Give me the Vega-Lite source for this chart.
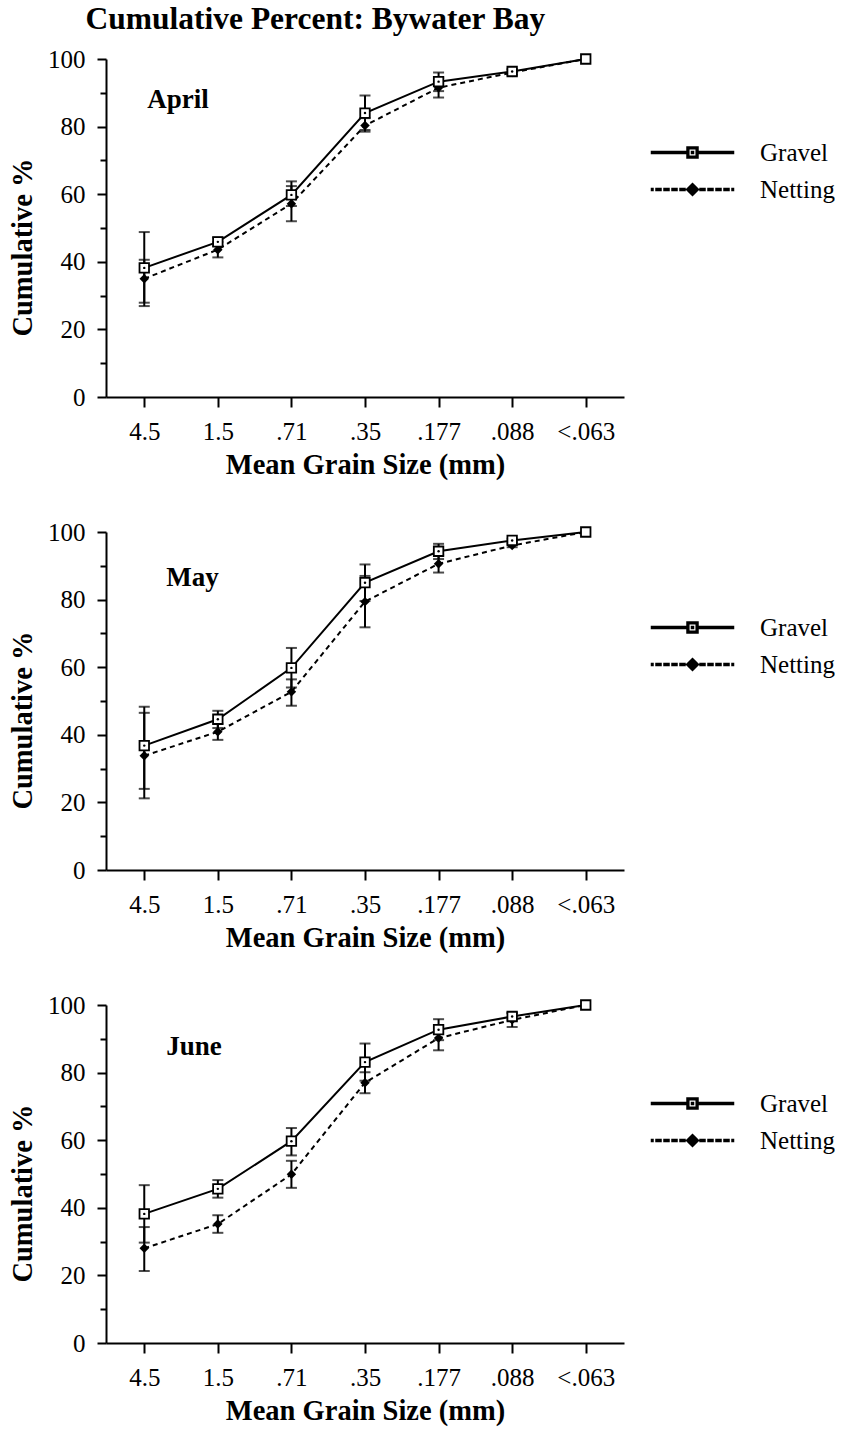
{
  "$schema": "https://vega.github.io/schema/vega-lite/v6.json",
  "padding": {"left": 8, "top": 3, "right": 0, "bottom": 5},
  "bounds": "flush",
  "spacing": 135,
  "title": {"text": "Cumulative Percent: Bywater Bay", "anchor": "start", "dx": 77, "fontSize": 31.5, "font": "Liberation Serif", "fontWeight": "bold", "offset": 12},
  "datasets": {
    "grain": [
      {"month": "April", "size": "4.5", "series": "Gravel", "value": 38.2, "lo": 27.9, "hi": 48.8},
      {"month": "April", "size": "1.5", "series": "Gravel", "value": 45.9, "lo": 44.7, "hi": 47.2},
      {"month": "April", "size": ".71", "series": "Gravel", "value": 59.8, "lo": 56.5, "hi": 63.8},
      {"month": "April", "size": ".35", "series": "Gravel", "value": 84.0, "lo": 79.0, "hi": 89.2},
      {"month": "April", "size": ".177", "series": "Gravel", "value": 93.3, "lo": 90.5, "hi": 96.0},
      {"month": "April", "size": ".088", "series": "Gravel", "value": 96.3, "lo": 95.5, "hi": 97.1},
      {"month": "April", "size": "<.063", "series": "Gravel", "value": 100},
      {"month": "April", "size": "4.5", "series": "Netting", "value": 35.0, "lo": 26.9, "hi": 40.6},
      {"month": "April", "size": "1.5", "series": "Netting", "value": 43.6, "lo": 41.3, "hi": 45.9},
      {"month": "April", "size": ".71", "series": "Netting", "value": 57.2, "lo": 52.0, "hi": 62.4},
      {"month": "April", "size": ".35", "series": "Netting", "value": 80.3, "lo": 78.5, "hi": 82.5},
      {"month": "April", "size": ".177", "series": "Netting", "value": 91.5, "lo": 88.6, "hi": 94.4},
      {"month": "April", "size": ".088", "series": "Netting", "value": 96.0, "lo": 95.2, "hi": 96.8},
      {"month": "April", "size": "<.063", "series": "Netting", "value": 100},
      {"month": "May", "size": "4.5", "series": "Gravel", "value": 36.8, "lo": 24.0, "hi": 48.3},
      {"month": "May", "size": "1.5", "series": "Gravel", "value": 44.6, "lo": 42.0, "hi": 47.1},
      {"month": "May", "size": ".71", "series": "Gravel", "value": 59.8, "lo": 54.0, "hi": 65.7},
      {"month": "May", "size": ".35", "series": "Gravel", "value": 85.0, "lo": 79.6, "hi": 90.4},
      {"month": "May", "size": ".177", "series": "Gravel", "value": 94.3, "lo": 92.0, "hi": 96.5},
      {"month": "May", "size": ".088", "series": "Gravel", "value": 97.5, "lo": 97.0, "hi": 98.0},
      {"month": "May", "size": "<.063", "series": "Gravel", "value": 100},
      {"month": "May", "size": "4.5", "series": "Netting", "value": 33.8, "lo": 21.2, "hi": 46.5},
      {"month": "May", "size": "1.5", "series": "Netting", "value": 40.9, "lo": 38.5, "hi": 43.3},
      {"month": "May", "size": ".71", "series": "Netting", "value": 52.7, "lo": 48.6, "hi": 56.4},
      {"month": "May", "size": ".35", "series": "Netting", "value": 79.4, "lo": 71.8, "hi": 87.0},
      {"month": "May", "size": ".177", "series": "Netting", "value": 90.6, "lo": 88.0, "hi": 93.2},
      {"month": "May", "size": ".088", "series": "Netting", "value": 96.0, "lo": 95.5, "hi": 96.5},
      {"month": "May", "size": "<.063", "series": "Netting", "value": 100},
      {"month": "June", "size": "4.5", "series": "Gravel", "value": 38.2, "lo": 29.7, "hi": 46.7},
      {"month": "June", "size": "1.5", "series": "Gravel", "value": 45.6, "lo": 43.0, "hi": 48.2},
      {"month": "June", "size": ".71", "series": "Gravel", "value": 59.7, "lo": 55.5, "hi": 63.6},
      {"month": "June", "size": ".35", "series": "Gravel", "value": 83.1, "lo": 77.6, "hi": 88.6},
      {"month": "June", "size": ".177", "series": "Gravel", "value": 92.7, "lo": 89.6, "hi": 95.8},
      {"month": "June", "size": ".088", "series": "Gravel", "value": 96.6, "lo": 95.6, "hi": 97.6},
      {"month": "June", "size": "<.063", "series": "Gravel", "value": 100},
      {"month": "June", "size": "4.5", "series": "Netting", "value": 28.0, "lo": 21.3, "hi": 34.3},
      {"month": "June", "size": "1.5", "series": "Netting", "value": 35.2, "lo": 32.6, "hi": 37.8},
      {"month": "June", "size": ".71", "series": "Netting", "value": 49.9, "lo": 45.9, "hi": 53.9},
      {"month": "June", "size": ".35", "series": "Netting", "value": 77.0, "lo": 73.9, "hi": 80.1},
      {"month": "June", "size": ".177", "series": "Netting", "value": 90.2, "lo": 86.6, "hi": 93.8},
      {"month": "June", "size": ".088", "series": "Netting", "value": 95.6, "lo": 93.5, "hi": 97.7},
      {"month": "June", "size": "<.063", "series": "Netting", "value": 100}
    ],
    "labels": [
      {"month": "April", "size": "4.5", "value": 88},
      {"month": "May", "size": "4.5", "value": 86.5},
      {"month": "June", "size": "4.5", "value": 87.5}
    ]
  },
  "data": {"name": "grain"},
  "vconcat": [
    {
      "width": 518, "height": 338,
      "transform": [{"filter": "datum.month === 'April'"}],
      "encoding": {
        "x": {"field": "size", "type": "ordinal", "sort": ["4.5", "1.5", ".71", ".35", ".177", ".088", "<.063"], "scale": {"type": "point", "padding": 0.52}, "title": "Mean Grain Size (mm)"},
        "y": {"field": "value", "type": "quantitative", "scale": {"domain": [0, 100], "nice": false}, "title": "Cumulative %"}
      },
      "layer": [
        {"transform": [{"filter": "datum.series === 'Netting'"}], "mark": {"type": "line", "color": "black", "strokeWidth": 2, "strokeDash": [5, 4]}, "encoding": {}},
        {"transform": [{"filter": "datum.series === 'Gravel'"}], "mark": {"type": "line", "color": "black", "strokeWidth": 2}, "encoding": {}},
        {"transform": [{"filter": "isValid(datum.lo)"}], "mark": {"type": "rule", "color": "black", "strokeWidth": 2}, "encoding": {"y": {"field": "lo", "type": "quantitative"}, "y2": {"field": "hi"}}},
        {"transform": [{"filter": "isValid(datum.lo)"}], "mark": {"type": "tick", "color": "black", "size": 11, "thickness": 2}, "encoding": {"y": {"field": "lo", "type": "quantitative"}}},
        {"transform": [{"filter": "isValid(datum.hi)"}], "mark": {"type": "tick", "color": "black", "size": 11, "thickness": 2}, "encoding": {"y": {"field": "hi", "type": "quantitative"}}},
        {"transform": [{"filter": "datum.series === 'Netting'"}], "mark": {"type": "point", "shape": "diamond", "filled": true, "color": "black", "size": 90, "opacity": 1}},
        {"transform": [{"filter": "datum.series === 'Gravel'"}], "mark": {"type": "point", "shape": "square", "fill": "white", "stroke": "black", "strokeWidth": 1.8, "size": 90, "opacity": 1}},
        {"transform": [{"filter": "datum.series === 'Gravel' && datum.size !== '<.063'"}], "mark": {"type": "point", "filled": true, "color": "black", "size": 6, "opacity": 1}},
        {"transform": [{"filter": "false"}], "mark": {"type": "point", "stroke": "black", "strokeWidth": 1.8, "opacity": 1},
         "encoding": {
           "opacity": {"value": 1},
           "shape": {"field": "series", "type": "nominal", "scale": {"domain": ["Gravel", "Netting"], "range": ["M-4.1,-0.09H-0.55V0.09H-4.1ZM0.55,-0.09H4.1V0.09H0.55ZM-0.55,-0.55H0.55V0.55H-0.55ZM-0.37,-0.37V0.37H0.37V-0.37ZM-0.1,-0.1H0.1V0.1H-0.1Z", "M-4.1,-0.09H-3.95V0.09H-4.1ZM-3.65,-0.09H-3.15V0.09H-3.65ZM-2.85,-0.09H-2.35V0.09H-2.85ZM-2.05,-0.09H-1.55V0.09H-2.05ZM-1.25,-0.09H-0.75V0.09H-1.25ZM0.75,-0.09H1.25V0.09H0.75ZM1.55,-0.09H2.05V0.09H1.55ZM2.35,-0.09H2.85V0.09H2.35ZM3.15,-0.09H3.65V0.09H3.15ZM3.95,-0.09H4.1V0.09H3.95ZM0,-0.6L0.6,0L0,0.6L-0.6,0Z"]},
             "legend": {"orient": "none", "legendX": 574, "legendY": 81, "title": null, "padding": 0, "symbolSize": 400, "labelOffset": 55, "rowPadding": 11, "labelFontSize": 25, "labelFont": "Liberation Serif", "symbolOpacity": 1}},
           "fill": {"field": "series", "type": "nominal", "scale": {"domain": ["Gravel", "Netting"], "range": ["black", "black"]},
             "legend": {"orient": "none", "legendX": 574, "legendY": 81, "title": null, "padding": 0, "symbolSize": 400, "labelOffset": 55, "rowPadding": 11, "labelFontSize": 25, "labelFont": "Liberation Serif", "symbolOpacity": 1}}
         }},
        {"data": {"name": "labels"}, "transform": [{"filter": "datum.month === 'April'"}], "mark": {"type": "text", "align": "left", "dx": 3, "fontSize": 27, "fontWeight": "bold", "font": "Liberation Serif", "color": "black"}, "encoding": {"text": {"field": "month"}}}
      ]
    },
    {
      "width": 518, "height": 338,
      "transform": [{"filter": "datum.month === 'May'"}],
      "encoding": {
        "x": {"field": "size", "type": "ordinal", "sort": ["4.5", "1.5", ".71", ".35", ".177", ".088", "<.063"], "scale": {"type": "point", "padding": 0.52}, "title": "Mean Grain Size (mm)"},
        "y": {"field": "value", "type": "quantitative", "scale": {"domain": [0, 100], "nice": false}, "title": "Cumulative %"}
      },
      "layer": [
        {"transform": [{"filter": "datum.series === 'Netting'"}], "mark": {"type": "line", "color": "black", "strokeWidth": 2, "strokeDash": [5, 4]}, "encoding": {}},
        {"transform": [{"filter": "datum.series === 'Gravel'"}], "mark": {"type": "line", "color": "black", "strokeWidth": 2}, "encoding": {}},
        {"transform": [{"filter": "isValid(datum.lo)"}], "mark": {"type": "rule", "color": "black", "strokeWidth": 2}, "encoding": {"y": {"field": "lo", "type": "quantitative"}, "y2": {"field": "hi"}}},
        {"transform": [{"filter": "isValid(datum.lo)"}], "mark": {"type": "tick", "color": "black", "size": 11, "thickness": 2}, "encoding": {"y": {"field": "lo", "type": "quantitative"}}},
        {"transform": [{"filter": "isValid(datum.hi)"}], "mark": {"type": "tick", "color": "black", "size": 11, "thickness": 2}, "encoding": {"y": {"field": "hi", "type": "quantitative"}}},
        {"transform": [{"filter": "datum.series === 'Netting'"}], "mark": {"type": "point", "shape": "diamond", "filled": true, "color": "black", "size": 90, "opacity": 1}},
        {"transform": [{"filter": "datum.series === 'Gravel'"}], "mark": {"type": "point", "shape": "square", "fill": "white", "stroke": "black", "strokeWidth": 1.8, "size": 90, "opacity": 1}},
        {"transform": [{"filter": "datum.series === 'Gravel' && datum.size !== '<.063'"}], "mark": {"type": "point", "filled": true, "color": "black", "size": 6, "opacity": 1}},
        {"transform": [{"filter": "false"}], "mark": {"type": "point", "stroke": "black", "strokeWidth": 1.8, "opacity": 1},
         "encoding": {
           "opacity": {"value": 1},
           "shape": {"field": "series", "type": "nominal", "scale": {"domain": ["Gravel", "Netting"], "range": ["M-4.1,-0.09H-0.55V0.09H-4.1ZM0.55,-0.09H4.1V0.09H0.55ZM-0.55,-0.55H0.55V0.55H-0.55ZM-0.37,-0.37V0.37H0.37V-0.37ZM-0.1,-0.1H0.1V0.1H-0.1Z", "M-4.1,-0.09H-3.95V0.09H-4.1ZM-3.65,-0.09H-3.15V0.09H-3.65ZM-2.85,-0.09H-2.35V0.09H-2.85ZM-2.05,-0.09H-1.55V0.09H-2.05ZM-1.25,-0.09H-0.75V0.09H-1.25ZM0.75,-0.09H1.25V0.09H0.75ZM1.55,-0.09H2.05V0.09H1.55ZM2.35,-0.09H2.85V0.09H2.35ZM3.15,-0.09H3.65V0.09H3.15ZM3.95,-0.09H4.1V0.09H3.95ZM0,-0.6L0.6,0L0,0.6L-0.6,0Z"]},
             "legend": {"orient": "none", "legendX": 574, "legendY": 83, "title": null, "padding": 0, "symbolSize": 400, "labelOffset": 55, "rowPadding": 11, "labelFontSize": 25, "labelFont": "Liberation Serif", "symbolOpacity": 1}},
           "fill": {"field": "series", "type": "nominal", "scale": {"domain": ["Gravel", "Netting"], "range": ["black", "black"]},
             "legend": {"orient": "none", "legendX": 574, "legendY": 83, "title": null, "padding": 0, "symbolSize": 400, "labelOffset": 55, "rowPadding": 11, "labelFontSize": 25, "labelFont": "Liberation Serif", "symbolOpacity": 1}}
         }},
        {"data": {"name": "labels"}, "transform": [{"filter": "datum.month === 'May'"}], "mark": {"type": "text", "align": "left", "dx": 22, "fontSize": 27, "fontWeight": "bold", "font": "Liberation Serif", "color": "black"}, "encoding": {"text": {"field": "month"}}}
      ]
    },
    {
      "width": 518, "height": 338,
      "transform": [{"filter": "datum.month === 'June'"}],
      "encoding": {
        "x": {"field": "size", "type": "ordinal", "sort": ["4.5", "1.5", ".71", ".35", ".177", ".088", "<.063"], "scale": {"type": "point", "padding": 0.52}, "title": "Mean Grain Size (mm)"},
        "y": {"field": "value", "type": "quantitative", "scale": {"domain": [0, 100], "nice": false}, "title": "Cumulative %"}
      },
      "layer": [
        {"transform": [{"filter": "datum.series === 'Netting'"}], "mark": {"type": "line", "color": "black", "strokeWidth": 2, "strokeDash": [5, 4]}, "encoding": {}},
        {"transform": [{"filter": "datum.series === 'Gravel'"}], "mark": {"type": "line", "color": "black", "strokeWidth": 2}, "encoding": {}},
        {"transform": [{"filter": "isValid(datum.lo)"}], "mark": {"type": "rule", "color": "black", "strokeWidth": 2}, "encoding": {"y": {"field": "lo", "type": "quantitative"}, "y2": {"field": "hi"}}},
        {"transform": [{"filter": "isValid(datum.lo)"}], "mark": {"type": "tick", "color": "black", "size": 11, "thickness": 2}, "encoding": {"y": {"field": "lo", "type": "quantitative"}}},
        {"transform": [{"filter": "isValid(datum.hi)"}], "mark": {"type": "tick", "color": "black", "size": 11, "thickness": 2}, "encoding": {"y": {"field": "hi", "type": "quantitative"}}},
        {"transform": [{"filter": "datum.series === 'Netting'"}], "mark": {"type": "point", "shape": "diamond", "filled": true, "color": "black", "size": 90, "opacity": 1}},
        {"transform": [{"filter": "datum.series === 'Gravel'"}], "mark": {"type": "point", "shape": "square", "fill": "white", "stroke": "black", "strokeWidth": 1.8, "size": 90, "opacity": 1}},
        {"transform": [{"filter": "datum.series === 'Gravel' && datum.size !== '<.063'"}], "mark": {"type": "point", "filled": true, "color": "black", "size": 6, "opacity": 1}},
        {"transform": [{"filter": "false"}], "mark": {"type": "point", "stroke": "black", "strokeWidth": 1.8, "opacity": 1},
         "encoding": {
           "opacity": {"value": 1},
           "shape": {"field": "series", "type": "nominal", "scale": {"domain": ["Gravel", "Netting"], "range": ["M-4.1,-0.09H-0.55V0.09H-4.1ZM0.55,-0.09H4.1V0.09H0.55ZM-0.55,-0.55H0.55V0.55H-0.55ZM-0.37,-0.37V0.37H0.37V-0.37ZM-0.1,-0.1H0.1V0.1H-0.1Z", "M-4.1,-0.09H-3.95V0.09H-4.1ZM-3.65,-0.09H-3.15V0.09H-3.65ZM-2.85,-0.09H-2.35V0.09H-2.85ZM-2.05,-0.09H-1.55V0.09H-2.05ZM-1.25,-0.09H-0.75V0.09H-1.25ZM0.75,-0.09H1.25V0.09H0.75ZM1.55,-0.09H2.05V0.09H1.55ZM2.35,-0.09H2.85V0.09H2.35ZM3.15,-0.09H3.65V0.09H3.15ZM3.95,-0.09H4.1V0.09H3.95ZM0,-0.6L0.6,0L0,0.6L-0.6,0Z"]},
             "legend": {"orient": "none", "legendX": 574, "legendY": 86, "title": null, "padding": 0, "symbolSize": 400, "labelOffset": 55, "rowPadding": 11, "labelFontSize": 25, "labelFont": "Liberation Serif", "symbolOpacity": 1}},
           "fill": {"field": "series", "type": "nominal", "scale": {"domain": ["Gravel", "Netting"], "range": ["black", "black"]},
             "legend": {"orient": "none", "legendX": 574, "legendY": 86, "title": null, "padding": 0, "symbolSize": 400, "labelOffset": 55, "rowPadding": 11, "labelFontSize": 25, "labelFont": "Liberation Serif", "symbolOpacity": 1}}
         }},
        {"data": {"name": "labels"}, "transform": [{"filter": "datum.month === 'June'"}], "mark": {"type": "text", "align": "left", "dx": 22, "fontSize": 27, "fontWeight": "bold", "font": "Liberation Serif", "color": "black"}, "encoding": {"text": {"field": "month"}}}
      ]
    }
  ],
  "resolve": {"scale": {"shape": "independent", "fill": "independent"}, "legend": {"shape": "independent", "fill": "independent"}},
  "config": {
    "font": "Liberation Serif",
    "view": {"stroke": null},
    "axis": {"grid": false, "domainColor": "black", "domainWidth": 2, "tickColor": "black", "tickWidth": 2, "labelColor": "black", "titleColor": "black", "labelFont": "Liberation Serif", "titleFont": "Liberation Serif", "labelFontSize": 25, "titleFontSize": 28.5, "titleFontWeight": "bold"},
    "axisX": {"labelAngle": 0, "tickSize": 10, "labelPadding": 12, "titlePadding": 6},
    "axisY": {"values": [0, 10, 20, 30, 40, 50, 60, 70, 80, 90, 100], "labelExpr": "datum.value % 20 === 0 ? datum.label : ''", "tickSize": {"condition": {"test": "datum.value % 20 === 0", "value": 9}, "value": 6}, "labelPadding": 12, "titlePadding": 10, "titleY": 188}
  }
}
